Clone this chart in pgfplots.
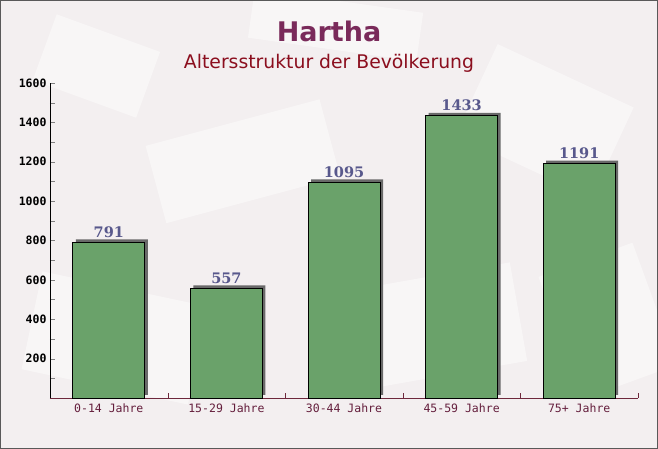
\documentclass[border=0pt]{standalone}
\usepackage{fontspec}
\setmainfont{DejaVu Sans}
\newfontfamily\monofont{DejaVu Sans Mono}
\newfontfamily\seriffont{DejaVu Serif}
\usepackage{pgfplots}
\pgfplotsset{compat=1.18}
\definecolor{bgcol}{RGB}{243,239,240}
\definecolor{titlecol}{RGB}{122,42,90}
\definecolor{subcol}{RGB}{139,14,30}
\definecolor{barfill}{RGB}{106,162,106}
\definecolor{shadowcol}{RGB}{105,105,105}
\definecolor{valcol}{RGB}{88,88,140}
\definecolor{xlabcol}{RGB}{100,30,60}
\definecolor{xaxiscol}{RGB}{110,40,60}

\begin{document}
\begin{tikzpicture}[x=1pt,y=1pt]
\useasboundingbox (0,0) rectangle (658,449);
% background
\fill[bgcol] (0,0) rectangle (658,449);
\begin{scope}
\clip (0,0) rectangle (658,449);
\begin{scope}[fill=white, opacity=0.45]
  \fill[rotate around={-20:(90,380)}] (40,350) rectangle (150,420);
  \fill[rotate around={15:(250,300)}] (150,250) rectangle (330,330);
  \fill[rotate around={-25:(540,330)}] (470,280) rectangle (620,380);
  \fill[rotate around={10:(420,120)}] (340,70) rectangle (520,170);
  \fill[rotate around={-12:(120,110)}] (30,60) rectangle (200,160);
  \fill[rotate around={20:(600,120)}] (560,60) rectangle (660,190);
  \fill[rotate around={-8:(330,420)}] (250,400) rectangle (420,449);
\end{scope}
\end{scope}
\draw[gray!70!black] (0.5,0.5) rectangle (657.5,448.5);
\node[font=\bfseries\fontsize{27}{29}\selectfont, text=titlecol] at (329,418) {Hartha};
\node[font=\fontsize{18.8}{20}\selectfont, text=subcol] at (329,386) {Altersstruktur der Bevölkerung};
\begin{axis}[
  at={(50pt,51pt)}, anchor=south west,
  width=588pt, height=315pt, scale only axis,
  xmin=-0.5, xmax=4.5, ymin=0, ymax=1600,
  axis x line*=bottom, axis y line*=left,
  x axis line style={draw=xaxiscol, -},
  y axis line style={draw=black, -},
  xtick={0,1,2,3,4},
  xticklabels={0-14 Jahre,15-29 Jahre,30-44 Jahre,45-59 Jahre,75+ Jahre},
  major x tick style={draw=none},
  minor xtick={-0.5,0.5,1.5,2.5,3.5,4.5},
  minor x tick style={draw=xaxiscol},
  ytick={200,400,...,1600},
  minor ytick={100,300,...,1500},
  tick align=inside,
  major tick length=5pt, minor tick length=5pt,
  x tick label style={font=\monofont\fontsize{11.5}{12}\selectfont, text=xlabcol, yshift=-2pt},
  y tick label style={font=\monofont\bfseries\fontsize{11.5}{12}\selectfont, text=black},
  /pgf/number format/assume math mode=true,
  /pgf/number format/1000 sep={},
  clip=false,
]
\addplot[ybar, bar width=72pt, bar shift=3pt, yshift=3pt, fill=shadowcol, draw=none]
  coordinates {(0,791) (1,557) (2,1095) (3,1433) (4,1191)};
\addplot[ybar, bar width=72pt, bar shift=0pt, fill=barfill, draw=black, line width=0.9pt,
  nodes near coords,
  every node near coord/.append style={font=\seriffont\bfseries\fontsize{14.5}{15}\selectfont, text=valcol, yshift=1pt}]
  coordinates {(0,791) (1,557) (2,1095) (3,1433) (4,1191)};
\end{axis}
\end{tikzpicture}
\end{document}
